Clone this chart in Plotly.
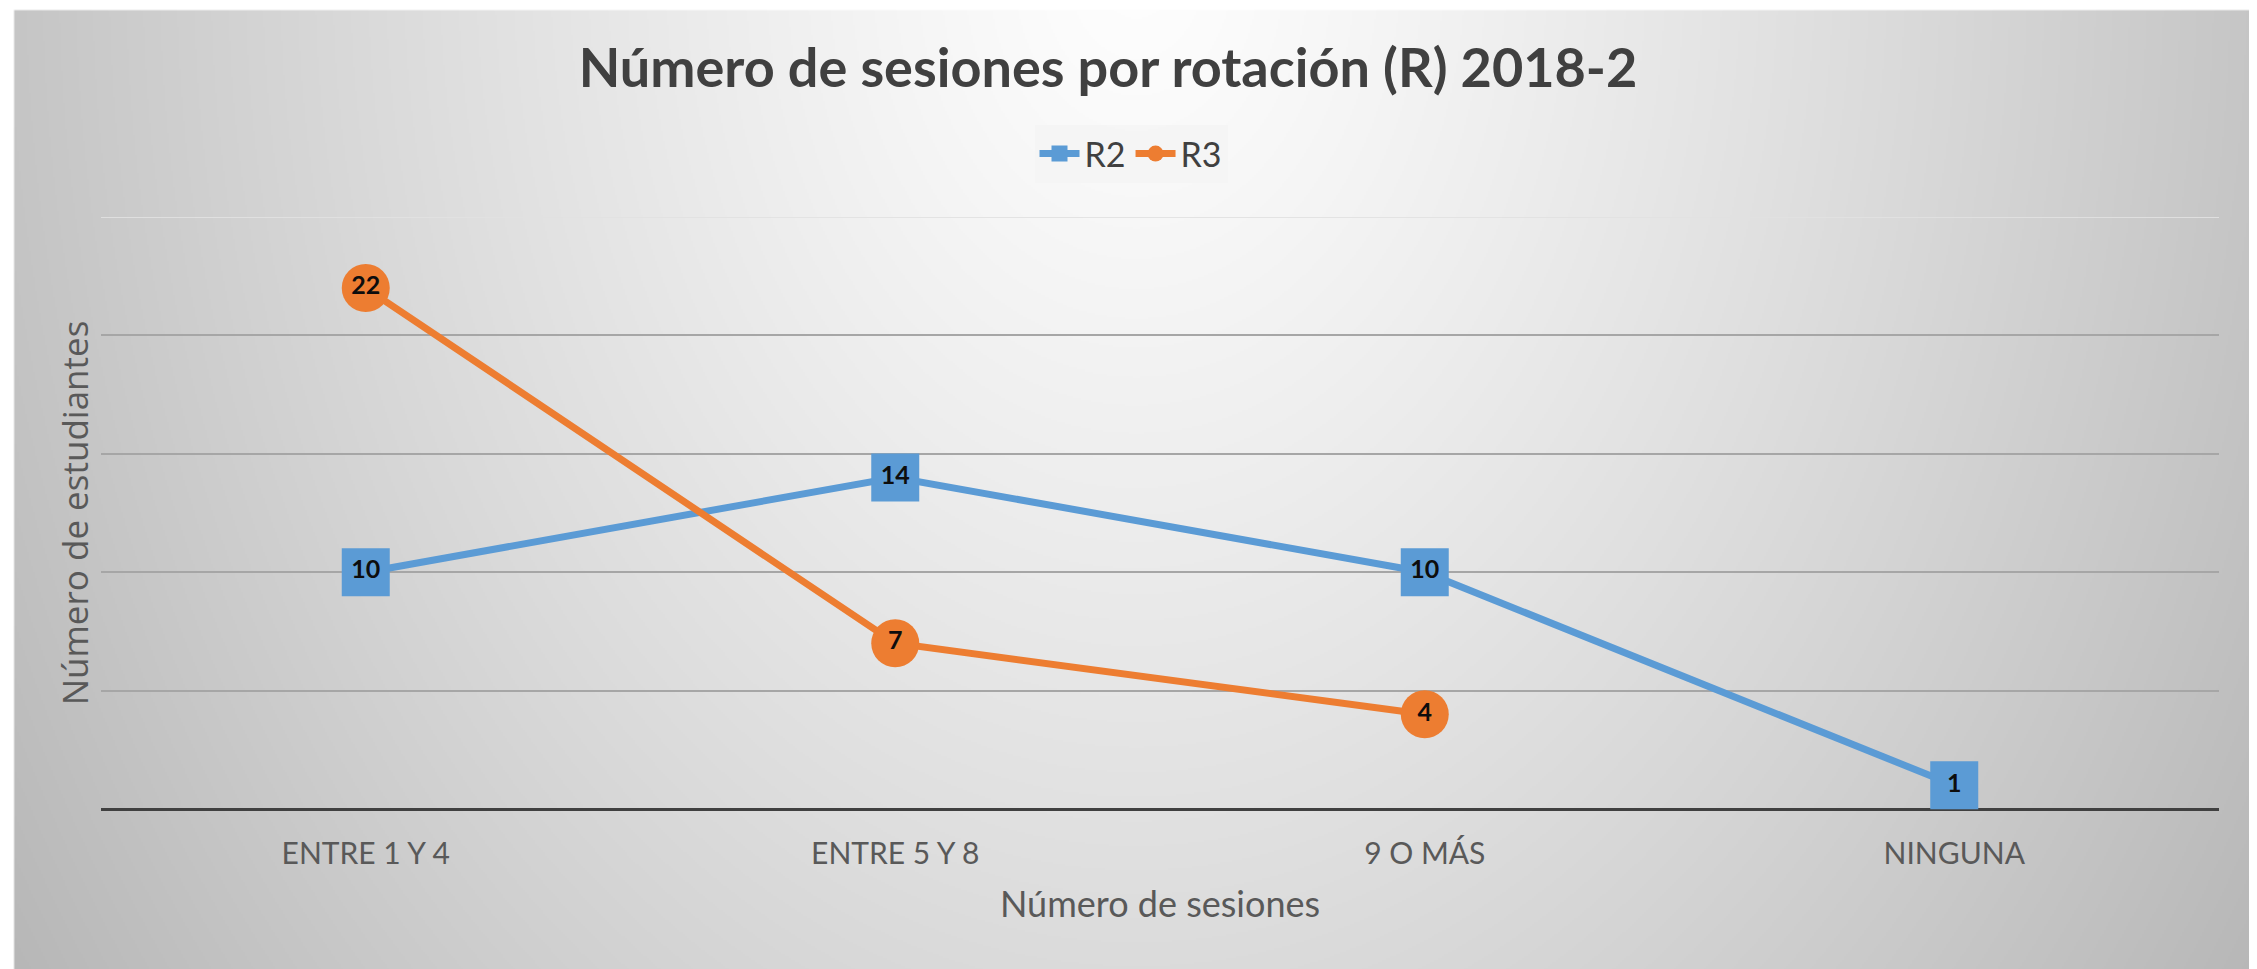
import base64
import struct
import zlib

import numpy as np
import plotly.graph_objects as go

# ---------------- data ----------------
categories = ["ENTRE 1 Y 4", "ENTRE 5 Y 8", "9 O MÁS", "NINGUNA"]
r2_values = [10, 14, 10, 1]
r3_values = [22, 7, 4, None]
series_names = ["R2", "R3"]

title_text = "Número de sesiones por rotación (R) 2018-2"
x_title = "Número de sesiones"
y_title = "Número de estudiantes"

# ---------------- layout geometry ----------------
W, H = 2257, 969
L, R, T, B = 93, 46, 209, 168
PW, PH = W - L - R, H - T - B


# ---------------- background gradient (style only) ----------------
def make_bg_png(w, h):
    xs = (np.arange(w) + 0.5) / w * W
    ys = (np.arange(h) + 0.5) / h * H
    X, Y = np.meshgrid(xs, ys)
    dx = (X - W / 2) / 1128.0
    dy = (Y + 40) / 1500.0
    r = np.sqrt(dx ** 2 + dy ** 2)
    v = 254 - 57 * np.power(r, 1.2)
    v = np.clip(v, 180, 255)
    v[:, : max(1, int(8 * w / W))] = 255
    v[: max(1, int(3 * h / H)), :] = 255
    arr = v.astype(np.uint8)
    raw = b"".join(b"\x00" + arr[i].tobytes() for i in range(h))

    def chunk(t, d):
        return struct.pack(">I", len(d)) + t + d + struct.pack(">I", zlib.crc32(t + d) & 0xFFFFFFFF)

    png = (
        b"\x89PNG\r\n\x1a\n"
        + chunk(b"IHDR", struct.pack(">IIBBBBB", w, h, 8, 0, 0, 0, 0))
        + chunk(b"IDAT", zlib.compress(raw, 9))
        + chunk(b"IEND", b"")
    )
    return "data:image/png;base64," + base64.b64encode(png).decode()


bg_src = make_bg_png(W // 2, H // 2)

BLUE = "#5b9bd5"
ORANGE = "#ed7d31"
LABEL_FONT = dict(family="Lato, 'Open Sans', sans-serif", size=25, color="#0d0d0d", weight="bold")

fig = go.Figure()
fig.add_trace(
    go.Scatter(
        x=categories,
        y=r2_values,
        name=series_names[0],
        mode="lines+markers+text",
        line=dict(color=BLUE, width=7),
        marker=dict(symbol="square", size=48, color=BLUE, line=dict(width=0)),
        text=[str(v) for v in r2_values],
        textposition="middle center",
        textfont=LABEL_FONT,
        cliponaxis=False,
    )
)
fig.add_trace(
    go.Scatter(
        x=categories,
        y=r3_values,
        name=series_names[1],
        mode="lines+markers+text",
        line=dict(color=ORANGE, width=7),
        marker=dict(symbol="circle", size=48, color=ORANGE, line=dict(width=0)),
        text=[("" if v is None else str(v)) for v in r3_values],
        textposition="middle center",
        textfont=LABEL_FONT,
        cliponaxis=False,
    )
)

fig.update_layout(
    width=W,
    height=H,
    margin=dict(l=L, r=R, t=T, b=B, autoexpand=False),
    paper_bgcolor="#d8d8d8",
    plot_bgcolor="rgba(0,0,0,0)",
    title=dict(
        text=title_text,
        x=1100 / W,
        xref="container",
        xanchor="center",
        y=1 - 60 / H,
        yref="container",
        yanchor="middle",
        font=dict(family="Lato, sans-serif", size=54, color="#404040", weight="bold"),
    ),
    legend=dict(
        orientation="h",
        xref="container",
        yref="container",
        x=1123 / W,
        xanchor="center",
        y=1 - 146 / H,
        yanchor="middle",
        bgcolor="rgba(244,244,244,0.85)",
        borderwidth=0,
        font=dict(family="Lato, sans-serif", size=34, color="#404040"),
        itemwidth=40,
        tracegroupgap=0,
    ),
    showlegend=True,
    images=[
        dict(
            source=bg_src,
            xref="paper",
            yref="paper",
            x=-L / PW,
            y=1 + T / PH,
            sizex=W / PW,
            sizey=H / PH,
            xanchor="left",
            yanchor="top",
            sizing="stretch",
            layer="below",
        )
    ],
    shapes=[
        dict(
            type="line",
            xref="paper",
            yref="y",
            x0=0,
            x1=1,
            y0=25,
            y1=25,
            line=dict(color="rgba(225,225,225,0.9)", width=2),
            layer="below",
        )
    ],
)

fig.update_xaxes(
    type="category",
    range=[-0.5, 3.5],
    showgrid=False,
    showline=False,
    ticks="outside",
    ticklen=0,
    ticklabelstandoff=18,
    tickfont=dict(family="Lato, sans-serif", size=30, color="#595959"),
    title=dict(
        text=x_title,
        font=dict(family="Lato, sans-serif", size=36, color="#595959"),
        standoff=22,
    ),
)

fig.update_yaxes(
    range=[0, 25],
    tickvals=[5, 10, 15, 20],
    showticklabels=False,
    showgrid=True,
    gridcolor="#a6a6a6",
    gridwidth=2,
    zeroline=True,
    zerolinecolor="#404040",
    zerolinewidth=3,
    showline=False,
    title=dict(
        text=y_title,
        font=dict(family="'Open Sans', sans-serif", size=35, color="#595959"),
        standoff=0,
    ),
)

fig.write_html("out.html")
